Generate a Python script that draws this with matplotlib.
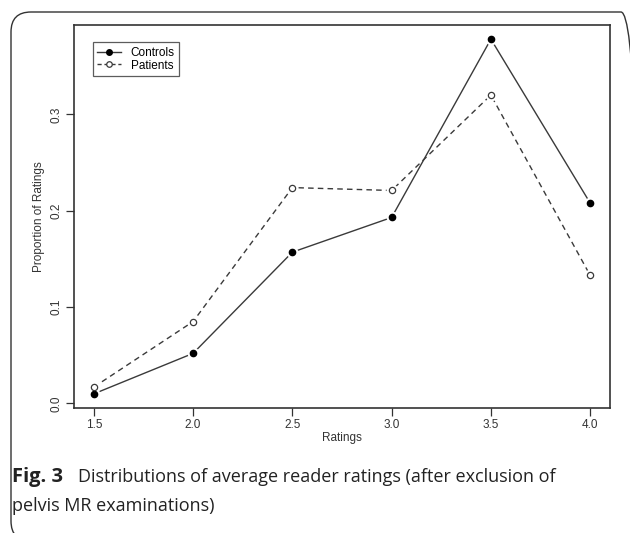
import matplotlib
matplotlib.use("Agg")
import matplotlib.pyplot as plt
from matplotlib.patches import FancyBboxPatch

# ----------------------------------------------------------------
# Data
# ----------------------------------------------------------------
ratings = [1.5, 2.0, 2.5, 3.0, 3.5, 4.0]
controls = [0.010, 0.052, 0.157, 0.193, 0.378, 0.208]
patients = [0.017, 0.085, 0.224, 0.221, 0.320, 0.133]

x_ticks = [1.5, 2.0, 2.5, 3.0, 3.5, 4.0]
y_ticks = [0.0, 0.1, 0.2, 0.3]

LINE_COLOR = "#3a3a3a"
PLOT_FONT = "Liberation Sans"
CAPTION_FONT = "Open Sans"

fig = plt.figure(figsize=(6.3, 5.33), dpi=100)

# rounded frame around the whole figure (right and bottom cut by the edge)
frame = FancyBboxPatch((0.11, -0.08), 6.30, 5.33 - 0.12 + 0.08,
                       boxstyle="round,pad=0,rounding_size=0.2",
                       transform=fig.dpi_scale_trans, facecolor="none",
                       edgecolor="#333333", linewidth=1.0)
fig.patches.append(frame)

ax = fig.add_axes([74 / 630, 1 - 408 / 533, 536 / 630, 383 / 533])

# lines first, then a white blob under each point (R "type=b" gap look)
ax.plot(ratings, controls, color=LINE_COLOR, linewidth=1.0, linestyle="-")
ax.plot(ratings, patients, color=LINE_COLOR, linewidth=1.0,
        linestyle=(0, (4, 3)))
for values in (controls, patients):
    ax.plot(ratings, values, linestyle="none", marker="o", markersize=8.5,
            markerfacecolor="white", markeredgecolor="none")

ax.plot(ratings, controls, linestyle="none", marker="o", markersize=4.5,
        markerfacecolor="black", markeredgecolor="black")
ax.plot(ratings, patients, linestyle="none", marker="o", markersize=4.5,
        markerfacecolor="white", markeredgecolor=LINE_COLOR,
        markeredgewidth=0.9)

# legend handles (line + marker)
ax.plot([], [], color=LINE_COLOR, linewidth=1.0, linestyle="-",
        marker="o", markersize=4, markerfacecolor="black",
        markeredgecolor="black", label="Controls")
ax.plot([], [], color=LINE_COLOR, linewidth=1.0, linestyle=(0, (3, 2)),
        marker="o", markersize=4, markerfacecolor="white",
        markeredgecolor=LINE_COLOR, markeredgewidth=0.9, label="Patients")

# R style axis ranges (4 % padding)
ax.set_xlim(1.4, 4.1)
ax.set_ylim(-0.0047, 0.3927)

ax.set_xticks(x_ticks)
ax.set_xticklabels([f"{v:.1f}" for v in x_ticks], fontsize=8.5,
                   family=PLOT_FONT, color="#333333")
ax.set_yticks(y_ticks)
ax.set_yticklabels([f"{v:.1f}" for v in y_ticks], fontsize=8.5,
                   family=PLOT_FONT, color="#333333", rotation=90,
                   va="center")
ax.tick_params(direction="out", length=6, width=0.9, color="#333333", pad=2)

for side in ax.spines.values():
    side.set_linewidth(1.2)
    side.set_color("#333333")

ax.set_xlabel("Ratings", fontsize=8.5, family=PLOT_FONT, color="#333333",
              labelpad=1)
ax.set_ylabel("Proportion of Ratings", fontsize=8.5, family=PLOT_FONT,
              color="#333333", labelpad=4)

leg = ax.legend(loc="upper left", bbox_to_anchor=(0.035, 0.955),
                prop={"family": PLOT_FONT, "size": 8.5}, frameon=True,
                fancybox=False, handlelength=2.0, handletextpad=0.8,
                borderpad=0.4, labelspacing=0.05, borderaxespad=0)
leg.get_frame().set_edgecolor("#333333")
leg.get_frame().set_linewidth(0.9)

# caption under the chart
fig.text(12 / 630, 1 - 482 / 533, "Fig. 3", fontsize=14.5, fontweight="bold",
         family=CAPTION_FONT, va="baseline", color="#222222")
fig.text(78 / 630, 1 - 482 / 533,
         "Distributions of average reader ratings (after exclusion of",
         fontsize=13, family=CAPTION_FONT, va="baseline", color="#222222")
fig.text(12 / 630, 1 - 511 / 533, "pelvis MR examinations)",
         fontsize=13, family=CAPTION_FONT, va="baseline", color="#222222")

fig.savefig("out.png", dpi=100)
